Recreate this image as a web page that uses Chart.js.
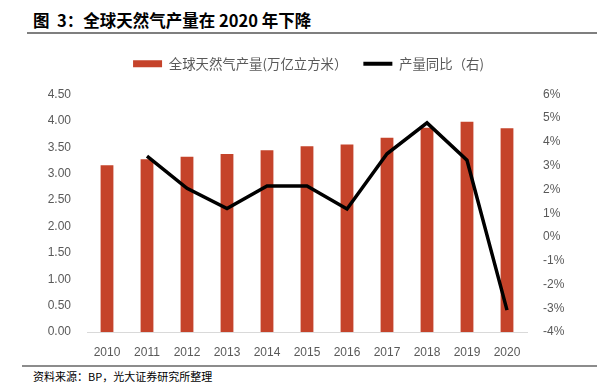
<!DOCTYPE html>
<html>
<head>
<meta charset="utf-8">
<script src="https://cdn.jsdelivr.net/npm/chart.js@4"></script>
<style>
  body { margin: 0; background: #fff; width: 597px; height: 385px; position: relative; overflow: hidden; }
  #title { position: absolute; left: 33px; top: 8px; font: bold 16.5px "Noto Sans CJK SC", sans-serif; color: #000; white-space: pre; }
  #rule1 { position: absolute; left: 27px; top: 32px; width: 570px; height: 2px; background: #7f7f7f; }
  #rule2 { position: absolute; left: 22px; top: 365px; width: 575px; height: 2px; background: #8c8c8c; }
  #source { position: absolute; left: 33px; top: 368px; font: 11px "Noto Sans CJK SC", sans-serif; color: #000; }
  #wrap { position: absolute; left: 0; top: 40px; width: 597px; height: 325px; }
</style>
</head>
<body>
<div id="title">图  3：全球天然气产量在 2020 年下降</div>
<div id="rule1"></div>
<div id="wrap"><canvas id="chart" width="597" height="325"></canvas></div>
<div id="rule2"></div>
<div id="source">资料来源：BP，光大证券研究所整理</div>
<script>
const years = ['2010', '2011', '2012', '2013', '2014', '2015', '2016', '2017', '2018', '2019', '2020'];
const production = [3.16, 3.27, 3.32, 3.37, 3.44, 3.52, 3.55, 3.68, 3.87, 3.98, 3.86];
const growth = [null, 3.4, 2.05, 1.2, 2.15, 2.15, 1.18, 3.5, 4.8, 3.23, -3.08];

const tickFont = { family: '"Liberation Sans", "Noto Sans CJK SC", sans-serif', size: 12 };
const gray = '#595959';

// legend sits higher than chart.js wants, push the plot down a bit
const legendGap = {
  id: 'legendGap',
  beforeInit(chart) {
    const fit = chart.legend.fit;
    chart.legend.fit = function () {
      fit.bind(chart.legend)();
      this.height += 14;
    };
  }
};

const ctx = document.getElementById('chart').getContext('2d');
new Chart(ctx, {
  type: 'bar',
  data: {
    labels: years,
    datasets: [{
      label: '全球天然气产量(万亿立方米）',
      data: production,
      backgroundColor: '#c5432a',
      categoryPercentage: 1,
      barPercentage: 0.32,
      yAxisID: 'y',
      order: 2
    }, {
      type: 'line',
      label: '产量同比（右)',
      data: growth,
      borderColor: '#000',
      backgroundColor: '#000',
      borderWidth: 3.5,
      pointRadius: 0,
      tension: 0,
      yAxisID: 'y1',
      order: 1
    }]
  },
  options: {
    responsive: false,
    animation: false,
    layout: { padding: { left: 20, right: 0, top: 1, bottom: 0 } },
    plugins: {
      tooltip: { enabled: false },
      legend: {
        position: 'top',
        labels: {
          color: gray,
          font: { family: '"Noto Sans CJK SC", sans-serif', size: 13.4 },
          usePointStyle: true,
          pointStyleWidth: 29,
          boxHeight: 7,
          padding: 16,
          generateLabels(chart) {
            const items = Chart.defaults.plugins.legend.labels.generateLabels(chart);
            items.sort((a, b) => a.datasetIndex - b.datasetIndex);
            items[0].pointStyle = 'rect';
            items[0].lineWidth = 0;
            items[0].fillStyle = '#c5432a';
            items[1].pointStyle = 'line';
            items[1].lineWidth = 4;
            items[1].strokeStyle = '#000';
            return items;
          }
        }
      }
    },
    scales: {
      x: {
        grid: { display: false, drawTicks: false },
        border: { color: '#d9d9d9' },
        ticks: { color: gray, font: tickFont, padding: 13 },
        afterFit(s) { s.height = 33; }
      },
      y: {
        position: 'left',
        min: 0, max: 4.5,
        grid: { display: false, drawTicks: false },
        border: { display: false },
        ticks: { stepSize: 0.5, color: gray, font: tickFont, padding: 16, callback: v => v.toFixed(2) },
        afterFit(s) { s.width = 67; }
      },
      y1: {
        position: 'right',
        min: -4, max: 6,
        grid: { display: false, drawTicks: false },
        border: { display: false },
        ticks: { stepSize: 1, color: gray, font: tickFont, padding: 16, callback: v => v + '%' },
        afterFit(s) { s.width = 70; }
      }
    }
  },
  plugins: [legendGap]
});
</script>
</body>
</html>
